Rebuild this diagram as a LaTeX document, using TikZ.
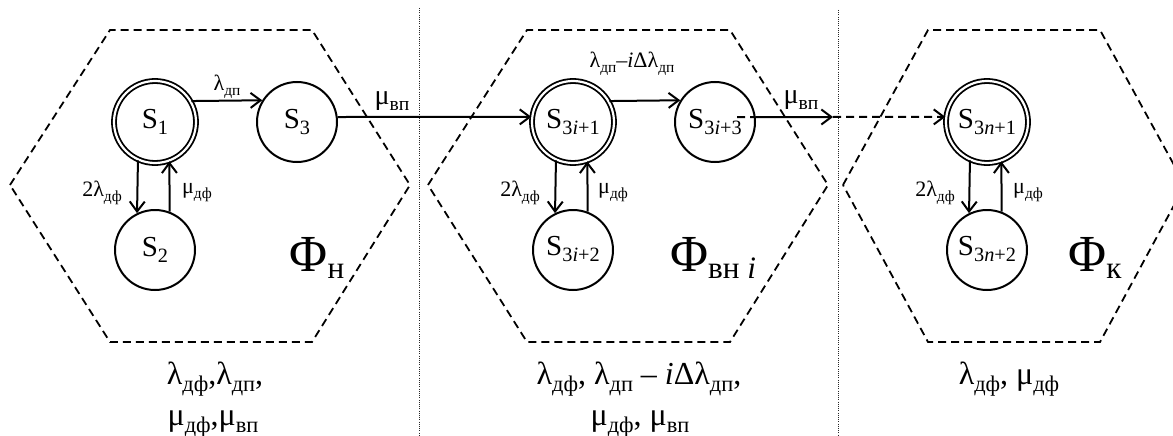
\documentclass[tikz,border=0pt]{standalone}
\usepackage{fontspec}
\setmainfont{Liberation Serif}
\usepackage{graphicx}
\usetikzlibrary{arrows.meta}
\newcommand\lsb[1]{\raisebox{-0.22em}{\scalebox{0.7}{#1}}}
\newcommand\bsb[1]{\raisebox{-0.12em}{\scalebox{0.6}{#1}}}
\begin{document}
\begin{tikzpicture}[x=1pt,y=-1pt,
  st/.style={circle,draw,line width=2pt,minimum size=80pt,inner sep=0pt,font=\fontsize{29}{31}\selectfont},
  dst/.style={st,double,double distance=2.2pt,line width=1.8pt,minimum size=82pt},
  hexa/.style={line width=1.8pt,dash pattern=on 8pt off 5pt},
  sep/.style={line width=1pt,dash pattern=on 1pt off 1.2pt,black!85},
  conn/.style={line width=2pt,-{Straight Barb[length=10pt,width=15pt]}},
  dconn/.style={conn,dash pattern=on 8pt off 5pt},
  dline/.style={line width=2pt,dash pattern=on 8pt off 5pt},
  lbl/.style={font=\fontsize{22}{24}\selectfont,inner sep=0pt},
  lblb/.style={font=\fontsize{28}{30}\selectfont,inner sep=0pt},
  big/.style={font=\fontsize{52}{56}\selectfont,inner sep=0pt},
  btm/.style={font=\fontsize{32}{36}\selectfont,inner sep=0pt,anchor=base}]
\useasboundingbox (0,0) rectangle (1173,436);
% hexagons
\draw[hexa] (10,185) -- (110,30) -- (312,30) -- (410,185) -- (312,342) -- (110,342) -- cycle;
\draw[hexa] (428,185) -- (527,30) -- (730,30) -- (828,185) -- (730,342) -- (527,342) -- cycle;
\draw[hexa] (843,185) -- (928,30) -- (1100,30) -- (1185,185) -- (1100,342) -- (928,342) -- cycle;
% separators
\draw[sep] (419,8) -- (419,436);
\draw[sep] (838,10) -- (838,436);
% states
\node[dst] (S1) at (155,122) {S\lsb{1}};
\node[st] (S3) at (297,122) {S\lsb{3}};
\node[st] (S2) at (155,250) {S\lsb{2}};
\node[dst] (T1) at (573,122) {\raisebox{7pt}{S\lsb{3\textit{i}+1}}};
\node[st] (T3) at (715,122) {\raisebox{7pt}{S\lsb{3\textit{i}+3}}};
\node[st] (T2) at (573,250) {\raisebox{9pt}{S\lsb{3\textit{i}+2}}};
\node[dst] (U1) at (987,122) {\raisebox{6pt}{S\lsb{3\textit{n}+1}}};
\node[st] (U2) at (987,250) {\raisebox{9pt}{S\lsb{3\textit{n}+2}}};
% connectors
\draw[conn] (S1.30) -- (S3.148);
\draw[conn] (S1.246) -- (S2.116);
\draw[conn] (S2.69) -- (S1.290);
\draw[conn] (S3.7) -- (T1.173);
\draw[conn] (T1.30) -- (T3.148);
\draw[conn] (T1.246) -- (T2.116);
\draw[conn] (T2.69) -- (T1.290);
\coordinate (m1) at (833,117);
\coordinate (d0) at (737,117);
\draw[conn] (T3.7) -- (m1);
\draw[dline] (d0) -- (T3.7);
\draw[dconn] (m1) -- (U1.173);
\draw[conn] (U1.246) -- (U2.116);
\draw[conn] (U2.69) -- (U1.290);
% labels
\node[lbl] (l1) at (227,87) {λ\lsb{дп}};
\node[lbl,anchor=east] (l2) at (122,193) {2λ\lsb{дф}};
\node[lbl,anchor=west] (l3) at (182,193) {μ\lsb{дф}};
\node[lblb] (l4) at (392,101) {μ\lsb{вп}};
\node[lbl] (l5) at (632,64) {λ\lsb{дп}–\textit{i}Δλ\lsb{дп}};
\node[lbl,anchor=east] (l6) at (540,193) {2λ\lsb{дф}};
\node[lbl,anchor=west] (l7) at (598,193) {μ\lsb{дф}};
\node[lblb] (l8) at (801,100) {μ\lsb{вп}};
\node[lbl,anchor=east] (l9) at (955,193) {2λ\lsb{дф}};
\node[lbl,anchor=west] (l10) at (1013,193) {μ\lsb{дф}};
% phase labels
\node[big] (F1) at (317,258) {Φ\bsb{н}};
\node[big] (F2) at (713,258) {Φ\bsb{вн \textit{i}}};
\node[big] (F3) at (1095,258) {Φ\bsb{к}};
% bottom texts
\node[btm] (B1) at (215,384) {λ\lsb{дф},λ\lsb{дп},};
\node[btm] (B2) at (213,425) {μ\lsb{дф},μ\lsb{вп}};
\node[btm] (B3) at (639,384) {λ\lsb{дф}, λ\lsb{дп} – \textit{i}Δλ\lsb{дп},};
\node[btm] (B4) at (640,425) {μ\lsb{дф}, μ\lsb{вп}};
\node[btm] (B5) at (1009,384) {λ\lsb{дф}, μ\lsb{дф}};
\end{tikzpicture}
\end{document}
